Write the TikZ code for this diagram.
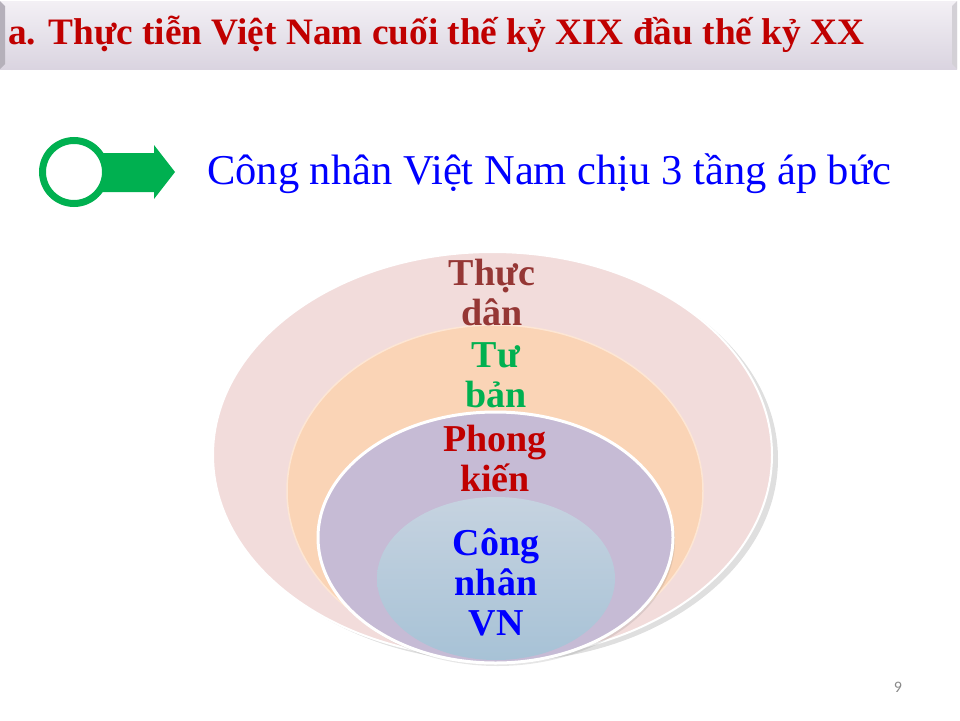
\documentclass[tikz,border=0pt]{standalone}
\usepackage{fontspec}
\setmainfont{Liberation Serif}
\newfontfamily\pagefont{Carlito}
\usepackage{tikz}
\usetikzlibrary{shapes.geometric,shadows}

\definecolor{barTop}{HTML}{F3F0F5}
\definecolor{barBot}{HTML}{DAD4E0}
\definecolor{barEdge}{HTML}{B5B0BA}
\definecolor{titleRed}{HTML}{C00000}
\definecolor{iconGreen}{HTML}{00B050}
\definecolor{pinkFill}{HTML}{F2DCDB}
\definecolor{peachFill}{HTML}{FAD4B6}
\definecolor{peachRim}{HTML}{FDE6D4}
\definecolor{purpleFill}{HTML}{C6BBD5}
\definecolor{blueTop}{HTML}{C6D3E0}
\definecolor{blueBot}{HTML}{A7C2D6}
\definecolor{colonialText}{HTML}{953735}
\definecolor{pageGray}{HTML}{898989}

\begin{document}
\begin{tikzpicture}[
    x=1pt, y=-1pt,
    layer/.style={ellipse, inner sep=0pt, draw=white},
    lbl/.style={align=center, anchor=base, inner sep=0pt, font=\fontsize{38}{40}\selectfont\bfseries}
]
    \useasboundingbox (0,0) rectangle (960,720);

    % title bar
    \shade [top color=barTop, bottom color=barBot] (0,1) rectangle (957,69);
    \fill [barEdge] (0,1) -- (5,6) -- (5,64) -- (0,69) -- cycle;
    \fill [barEdge!60] (957,1) -- (952,6) -- (952,64) -- (957,69) -- cycle;
    \node (title) [anchor=base west, inner sep=0pt, text=titleRed, font=\fontsize{37.3}{40}\selectfont\bfseries] at (8,44) {a. Thực tiễn Việt Nam cuối thế kỷ XIX đầu thế kỷ XX};

    % green marker
    \fill [iconGreen] (100,153) -- (154,153) -- (154,145) -- (175,172) -- (154,199) -- (154,192) -- (100,192) -- cycle;
    \draw [iconGreen, line width=7pt, fill=white] (74,172) circle [radius=31.5];
    \node (subtitle) [anchor=base west, inner sep=0pt, text=blue, font=\fontsize{42.5}{46}\selectfont] at (207,184) {Công nhân Việt Nam chịu 3 tầng áp bức};

    % layers
    \node (colonial) [layer, fill=pinkFill, line width=2pt, minimum width=559pt, minimum height=406pt,
        drop shadow={shadow xshift=6pt, shadow yshift=-4pt, opacity=0.25}] at (492.5,455) {};
    \node (capital) [layer, draw=peachRim, fill=peachFill, line width=1.5pt, minimum width=416pt, minimum height=332pt] at (495,491) {};
    \node (feudal) [layer, fill=purpleFill, line width=3pt, minimum width=355pt, minimum height=251pt,
        drop shadow={shadow xshift=2pt, shadow yshift=-3pt, opacity=0.2}] at (495.5,537.5) {};
    \node (worker) [layer, draw=none, top color=blueTop, bottom color=blueBot, minimum width=238pt, minimum height=163pt] at (496,578.5) {};

    % labels, anchored at the last line
    \node (colonialtext) [lbl, text=colonialText] at (492,325) {Thực\\dân};
    \node (capitaltext) [lbl, text=iconGreen] at (496,407) {Tư\\bản};
    \node (feudaltext) [lbl, text=titleRed] at (495,491) {Phong\\kiến};
    \node (workertext) [lbl, text=blue] at (496,635) {Công\\nhân\\VN};

    \node (pagenum) [text=pageGray, font=\pagefont\fontsize{16}{18}\selectfont] at (898,687) {9};
\end{tikzpicture}
\end{document}
